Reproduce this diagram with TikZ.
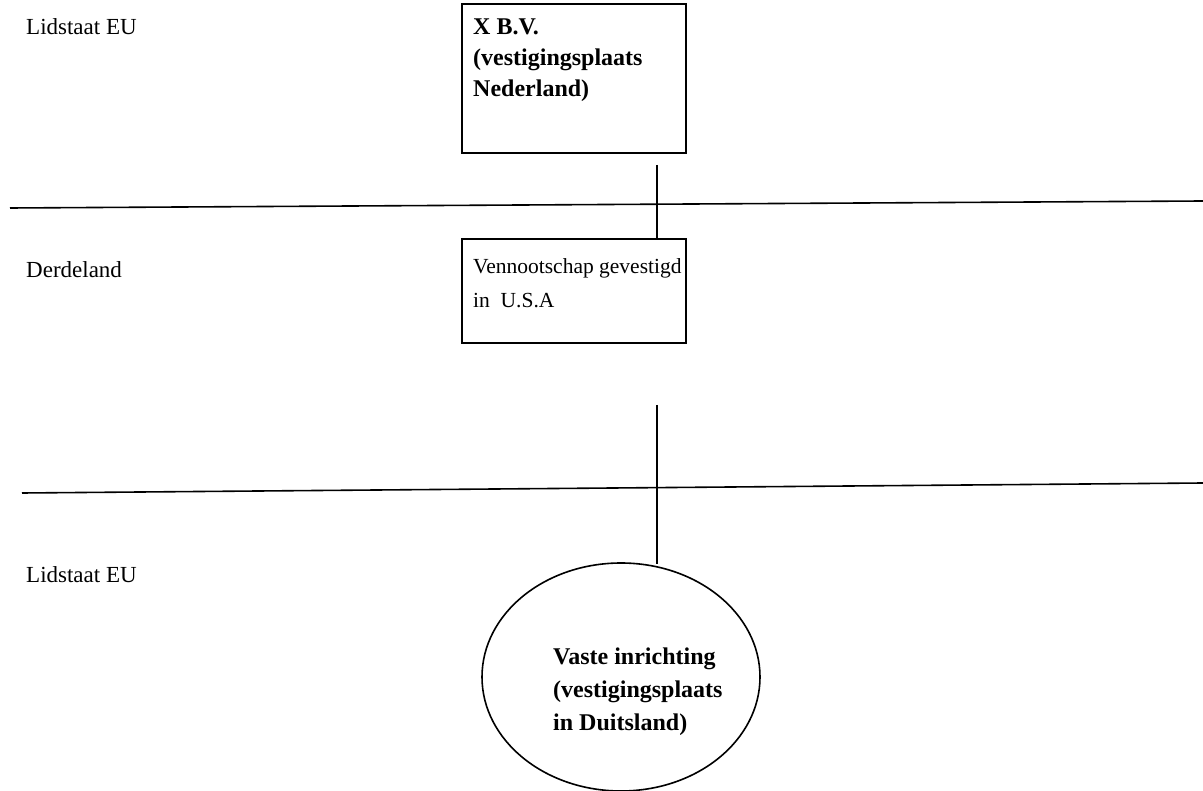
\documentclass[tikz,border=0pt]{standalone}
\usepackage{fontspec}
\setmainfont{Liberation Serif}
\usetikzlibrary{shapes.geometric}
\begin{document}
\begin{tikzpicture}[x=1pt,y=-1pt,
  lw/.style={line width=1.6pt},
  boxn/.style={draw,lw,inner sep=0pt,anchor=north west},
  lbl/.style={inner sep=0pt,anchor=base west,font=\fontsize{23}{31}\selectfont},
  blbl/.style={inner sep=0pt,anchor=north west,align=left,font=\fontsize{24}{31}\selectfont\bfseries},
  eblbl/.style={inner sep=0pt,anchor=north west,align=left,font=\fontsize{24}{33}\selectfont\bfseries},
  rlbl/.style={inner sep=0pt,anchor=north west,align=left,font=\fontsize{21.5}{34}\selectfont}]
\useasboundingbox (0,0) rectangle (1203,791);
% region labels
\node[lbl] (l1) at (26,35) {Lidstaat EU};
\node[lbl] (l2) at (26,278) {Derdeland};
\node[lbl] (l3) at (26,583) {Lidstaat EU};
% separating lines
\coordinate (s1a) at (10,208);
\coordinate (s1b) at (1203,201);
\coordinate (s2a) at (22,493);
\coordinate (s2b) at (1203,483);
\draw[lw] (s1a) -- (s1b);
\draw[lw] (s2a) -- (s2b);
% top box
\node[boxn,minimum width=224pt,minimum height=149pt] (top) at (461,3) {};
\node[blbl] (toptxt) at (473,19) {X B.V.\\(vestigingsplaats\\Nederland)};
% middle box
\node[boxn,minimum width=224pt,minimum height=104pt] (mid) at (461,238) {};
\node[rlbl] (midtxt) at (473,258) {Vennootschap gevestigd\\in\ \ U.S.A};
% ellipse
\node[draw,lw,ellipse,inner sep=0pt,minimum width=278pt,minimum height=228pt] (ell) at (621,677) {};
\node[eblbl] (elltxt) at (553,648) {Vaste inrichting\\(vestigingsplaats\\in Duitsland)};
% connectors
\coordinate (v1s) at (657,165);
\coordinate (v2s) at (657,405);
\draw[lw] (v1s) -- (v1s |- mid.north);
\draw[lw] (v2s) -- ([yshift=-1.5pt]v2s |- ell.north);
\end{tikzpicture}
\end{document}
